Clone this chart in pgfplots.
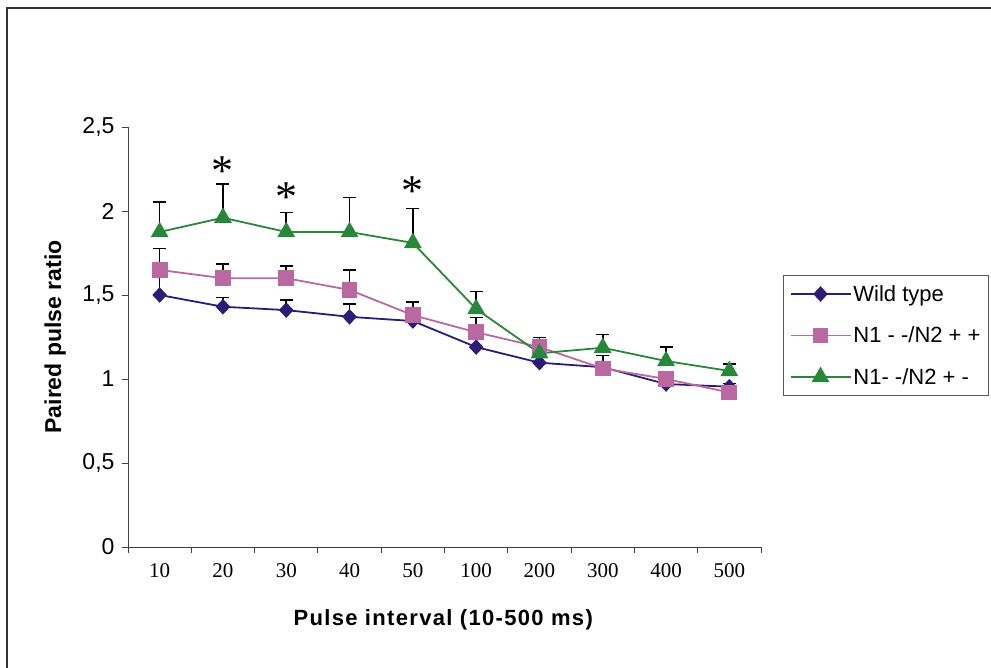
\documentclass[border=0pt]{standalone}
\usepackage{pgfplots}
\pgfplotsset{compat=1.18}
\usepackage{fontspec}
\setmainfont{Liberation Sans}
\newfontfamily\timesf{Liberation Serif}
\definecolor{wtc}{RGB}{44,28,118}
\definecolor{pkc}{RGB}{186,104,160}
\definecolor{grc}{RGB}{40,135,58}
\newcommand{\fsy}{\fontsize{23pt}{27pt}\selectfont}
\newcommand{\fsl}{\fontsize{22pt}{26pt}\selectfont}
\newcommand{\fsx}{\fontsize{21pt}{25pt}\selectfont}
\begin{document}
\begin{tikzpicture}
\useasboundingbox (0,0) rectangle (991pt,668pt);
\draw[line width=2pt, black!80] (7pt,-5pt) -- (7pt,660pt) -- (1000pt,660pt);
\begin{axis}[
  at={(128pt,121pt)}, anchor=south west,
  scale only axis, width=633pt, height=420pt,
  xmin=-0.5, xmax=9.5, ymin=0, ymax=2.5,
  axis x line=bottom, axis y line=left,
  axis line style={-, black!75, line width=0.9pt},
  xtick={0,...,9},
  xticklabels={10,20,30,40,50,100,200,300,400,500},
  major x tick style={draw=none},
  minor xtick={-0.5,0.5,...,9.5},
  minor tick length=6pt,
  minor x tick style={black!75, line width=0.9pt},
  tick align=outside,
  ytick={0,0.5,1,1.5,2,2.5},
  major tick length=6pt,
  y tick style={black!75, line width=0.9pt},
  /pgf/number format/use comma,
  /pgf/number format/assume math mode=true,
  yticklabel style={font=\fsy, xshift=-4pt},
  xticklabel style={font=\timesf\fsx, yshift=-7pt},
  ylabel={\bfseries Paired pulse ratio},
  ylabel style={font=\fsy, at={(axis description cs:-0.115,0.5)}, anchor=center},
  xlabel={\addfontfeatures{LetterSpace=6}\bfseries Pulse interval (10-500 ms)},
  xlabel style={font=\fsl, at={(axis description cs:0.498,-0.174)}, anchor=center},
  clip=false,
  legend style={at={(rel axis cs:1.035,0.648)}, anchor=north west,
    draw=black!65, line width=0.9pt, font=\fsl, inner xsep=6pt, inner ysep=8pt,
    row sep=20pt, /tikz/every even column/.append style={column sep=6pt}},
  legend cell align=left,
  legend image code/.code={\draw[line width=1.8pt, mark repeat=2,mark phase=2] plot coordinates {(0pt,0pt) (30pt,0pt) (60pt,0pt)};},
  error bars/y dir=plus, error bars/y explicit,
  error bars/error bar style={black, line width=1.6pt},
  error bars/error mark options={black, rotate=90, mark size=6.5pt, line width=1.6pt},
]
\addplot[wtc, line width=1.8pt, mark=diamond*, mark size=6.5pt, mark options={solid, fill=wtc, xscale=1.25}]
  coordinates {(0,1.50)+-(0,0.12) (1,1.43)+-(0,0.054) (2,1.41)+-(0,0.06) (3,1.37)+-(0,0.078) (4,1.345)+-(0,0.05)
               (5,1.19)+-(0,0.05) (6,1.097)+-(0,0.03) (7,1.07)+-(0,0.07) (8,0.97)+-(0,0.04) (9,0.954)+-(0,0.02)};
\addlegendentry{Wild type}
\addplot[pkc, line width=1.8pt, mark=square*, mark size=7pt, mark options={solid, fill=pkc}]
  coordinates {(0,1.649)+-(0,0.127) (1,1.60)+-(0,0.085) (2,1.60)+-(0,0.073) (3,1.53)+-(0,0.12) (4,1.38)+-(0,0.078)
               (5,1.278)+-(0,0.089) (6,1.19)+-(0,0.056) (7,1.063)+-(0,0.034) (8,1.0)+-(0,0.025) (9,0.92)+-(0,0.03)};
\addlegendentry{N1 - -/N2 + +}
\addplot[grc, line width=1.8pt, mark=triangle*, mark size=8.5pt, mark options={solid, fill=grc}]
  coordinates {(0,1.875)+-(0,0.18) (1,1.96)+-(0,0.2) (2,1.875)+-(0,0.115) (3,1.875)+-(0,0.205) (4,1.81)+-(0,0.206)
               (5,1.417)+-(0,0.103) (6,1.153)+-(0,0.08) (7,1.186)+-(0,0.08) (8,1.107)+-(0,0.083) (9,1.048)+-(0,0.041)};
\addlegendentry{N1- -/N2 + -}
\node[font=\timesf\fontsize{44pt}{44pt}\selectfont, inner sep=0pt] at (axis cs:1,2.235) {*};
\node[font=\timesf\fontsize{44pt}{44pt}\selectfont, inner sep=0pt] at (axis cs:2,2.08) {*};
\node[font=\timesf\fontsize{44pt}{44pt}\selectfont, inner sep=0pt] at (axis cs:4,2.12) {*};
\end{axis}
\end{tikzpicture}
\end{document}
